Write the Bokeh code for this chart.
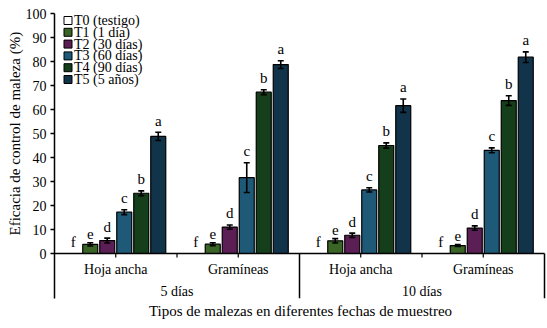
from bokeh.plotting import figure
from bokeh.models import Range1d, FixedTicker, Title, ColumnDataSource
from bokeh.core.properties import value
from bokeh.embed import file_html
from bokeh.resources import INLINE

# ---- data ----
groups = ["Hoja ancha", "Gramíneas", "Hoja ancha", "Gramíneas"]
periods = ["5 días", "10 días"]
treatments = ["T0 (testigo)", "T1 (1 día)", "T2 (30 días)", "T3 (60 días)", "T4 (90 días)", "T5 (5 años)"]
colors = ["#ffffff", "#3a6527", "#5b1e55", "#1e5a78", "#153f1a", "#12344a"]

t0 = [0, 0, 0, 0]
t1 = [3.8, 3.9, 5.3, 3.3]
t2 = [5.4, 11.0, 7.6, 10.6]
t3 = [17.2, 31.6, 26.5, 43.0]
t4 = [25.1, 67.2, 45.0, 63.7]
t5 = [48.8, 78.7, 61.6, 81.8]
series = [t0, t1, t2, t3, t4, t5]

e0 = [0, 0, 0, 0]
e1 = [0.7, 0.6, 0.9, 0.4]
e2 = [1.0, 0.9, 0.9, 0.9]
e3 = [1.0, 6.2, 0.9, 1.0]
e4 = [1.0, 1.0, 1.1, 2.0]
e5 = [1.7, 1.6, 2.8, 2.2]
errors = [e0, e1, e2, e3, e4, e5]

letters = ["f", "e", "d", "c", "b", "a"]

YTICKS = list(range(0, 101, 10))
FONT = "'Liberation Serif', 'Times New Roman', serif"

# ---- geometry (px) ----
W, H = 547, 328
left, right, top, bottom = 54, 1, 13, 30
frame_w = W - left - right
frame_h = H - top - bottom
px_x = 122.5  # px per group
px_y = 2.4    # px per %
xmax = frame_w / px_x
ymin = 100 - frame_h / px_y

p = figure(width=W, height=H, output_backend="svg", toolbar_location=None,
           x_range=Range1d(0, xmax), y_range=Range1d(ymin, 100),
           min_border_left=left, min_border_right=right,
           min_border_top=top, min_border_bottom=bottom)
p.outline_line_color = None
p.grid.visible = False
p.background_fill_color = "white"

yax = p.yaxis[0]
yax.ticker = FixedTicker(ticks=YTICKS)
yax.major_tick_in = 0
yax.major_tick_out = 4
yax.minor_tick_line_color = None
yax.axis_line_width = 1.5
yax.major_tick_line_width = 1.5
yax.major_label_text_font = FONT
yax.major_label_text_font_size = "14px"
yax.major_label_text_color = "black"
yax.major_label_standoff = 4

xax = p.xaxis[0]
xax.ticker = FixedTicker(ticks=[])
xax.axis_line_color = None
xax.major_tick_line_color = None
xax.minor_tick_line_color = None
xax.major_label_text_font_size = "0px"
xax.axis_label = "Tipos de malezas en diferentes fechas de muestreo"
xax.axis_label_text_font = FONT
xax.axis_label_text_font_size = "15px"
xax.axis_label_text_font_style = "normal"
xax.axis_label_text_color = "black"
xax.axis_label_standoff = 4

step = 17 / px_x
bw = 15 / px_x
cap = 3 / px_x
ng = len(groups)

lx, ly, lt = [], [], []
for i, (vals, errs) in enumerate(zip(series, errors)):
    xs = [g + 0.5 + (i - 2.5) * step for g in range(ng)]
    src = ColumnDataSource(dict(x=xs, top=vals, lo=[v - e for v, e in zip(vals, errs)],
                                hi=[v + e for v, e in zip(vals, errs)],
                                l=[x - cap for x in xs], r=[x + cap for x in xs]))
    p.vbar(x="x", top="top", bottom=0, width=bw, source=src,
           fill_color=colors[i], line_color="black", line_width=1.2)
    if i > 0:
        p.segment(x0="x", y0="lo", x1="x", y1="hi", source=src, line_color="black", line_width=1.6)
        p.segment(x0="l", y0="hi", x1="r", y1="hi", source=src, line_color="black", line_width=1.6)
        p.segment(x0="l", y0="lo", x1="r", y1="lo", source=src, line_color="black", line_width=1.6)
    lx += xs
    ly += [v + e + 1.5 for v, e in zip(vals, errs)]
    lt += [letters[i]] * ng

p.text(x=lx, y=ly, text=lt, text_font=value(FONT), text_font_size="15px",
       text_align="center", text_baseline="bottom", text_color="black")

# category axis (manual)
p.segment(x0=[0], y0=[0], x1=[ng], y1=[0], line_color="black", line_width=1.5)
tick_x = [g + 0.5 for g in range(ng)] + [1, 3]
p.segment(x0=tick_x, y0=[0] * len(tick_x), x1=tick_x, y1=[-4 / px_y] * len(tick_x),
          line_color="black", line_width=1.2)
p.segment(x0=[2, ng], y0=[0, 0], x1=[2, ng], y1=[ymin, ymin], line_color="black", line_width=1.5)

p.text(x=[g + 0.5 for g in range(ng)], y=[-16 / px_y] * ng, text=groups,
       text_font=value(FONT), text_font_size="14px", text_align="center",
       text_baseline="middle", text_color="black")
p.text(x=[1, 3], y=[-38 / px_y] * 2, text=periods,
       text_font=value(FONT), text_font_size="14px", text_align="center",
       text_baseline="middle", text_color="black")

# legend (manual, inside frame)
rows = [100 - (20 + 11.8 * k - top) / px_y for k in range(len(treatments))]
sw = 8
p.rect(x=[(67.5 - left) / px_x] * len(treatments), y=rows, width=sw, height=sw,
       width_units="screen", height_units="screen", fill_color=colors,
       line_color="black", line_width=1)
p.text(x=[(73.5 - left) / px_x] * len(treatments), y=rows, text=treatments,
       text_font=value(FONT), text_font_size="14px", text_align="left",
       text_baseline="middle", text_color="black")

ytitle = Title(text="Eficacia de control de maleza (%)", align="left", offset=63,
               text_font=FONT, text_font_size="15px", text_font_style="normal",
               text_color="black", standoff=0)
p.add_layout(ytitle, "left")

open("out.html", "w").write(file_html(p, INLINE))
